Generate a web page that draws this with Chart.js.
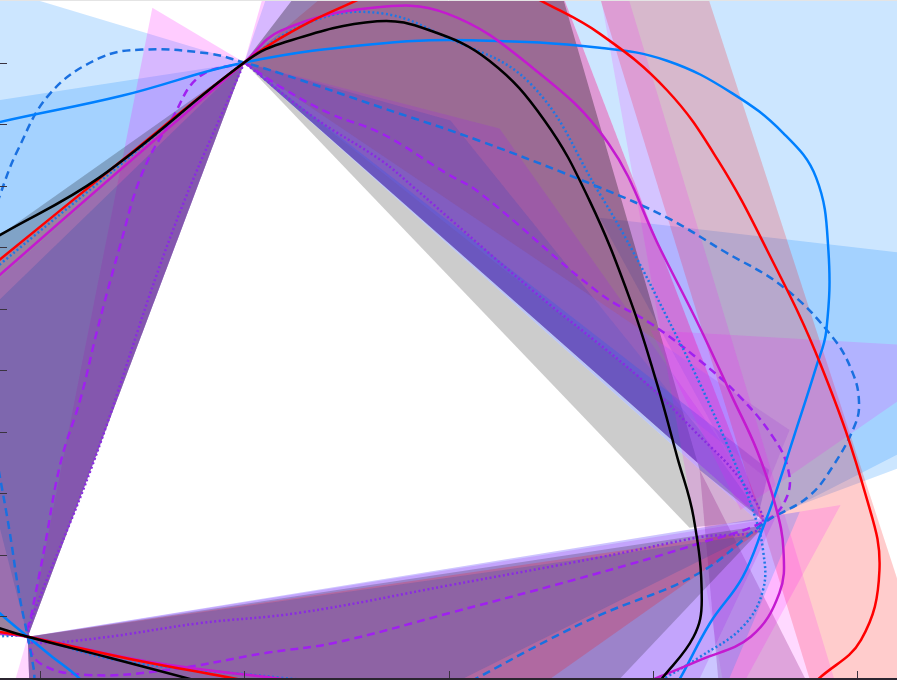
<!DOCTYPE html>
<html lang="en">
<head>
    <meta charset="UTF-8">
    <title>Closed curves through three corners</title>
    <script src="https://cdn.jsdelivr.net/npm/chart.js"></script>
    <style>
        html, body { margin: 0; padding: 0; background: #fff; }
        #wrap { width: 899px; height: 680px; }
    </style>
</head>
<body>
<div id="wrap"><canvas id="curveCanvas"></canvas></div>
<script>
    // tick positions (labels sit outside the visible window)
    var xTicks = [0, 1, 2, 3, 4];
    var yTicks = [1, 2, 3, 4, 5, 6, 7, 8, 9, 10];

    // the closed curves as [x, y]
    var blackCurve = [[-0.80,4.0],[-0.44,6.72],[-0.20,7.19],[0.29,8.13],[1.00,10.00],[1.18,10.31],[1.65,10.67],[1.91,10.52],[2.20,10.03],[2.47,9.06],[2.69,7.76],[2.89,6.14],[3.02,4.79],[3.12,3.59],[3.20,2.61],[3.24,1.27],[3.20,0.67],[3.04,-0.03],[2.89,-0.68],[1.93,-1.0],[0.98,-0.23],[0.75,-0.03],[0.34,0.33],[-0.06,0.67],[-0.20,0.81],[-0.44,1.09],[-0.80,4.0]];
    var redCurve = [[-0.80,3.5],[-0.44,6.14],[-0.20,6.79],[0.39,8.38],[1.00,10.00],[1.27,10.57],[1.55,11.01],[1.86,11.49],[2.15,11.54],[2.45,11.01],[2.74,10.47],[3.07,9.55],[3.32,8.41],[3.56,6.95],[3.82,5.11],[4.05,2.89],[4.11,1.75],[4.02,0.62],[3.81,-0.02],[3.60,-0.68],[2.5,-1.2],[1.22,-0.18],[0.97,-0.02],[0.44,0.31],[-0.06,0.67],[-0.20,0.75],[-0.44,0.89],[-0.80,3.5]];
    var blueCurve = [[-0.49,8.78],[-0.20,9.03],[0.40,9.46],[1.00,10.00],[1.67,10.31],[2.15,10.36],[2.74,10.24],[3.07,10.03],[3.39,9.50],[3.64,8.85],[3.80,8.13],[3.86,6.95],[3.85,5.65],[3.80,5.05],[3.69,3.91],[3.59,2.89],[3.55,2.53],[3.44,1.64],[3.28,0.89],[3.13,-0.03],[3.01,-0.68],[1.8,-1.3],[0.37,-0.68],[0.20,-0.03],[0.05,0.37],[-0.06,0.67],[-0.20,1.06],[-0.39,1.64],[-0.8,5.0],[-0.49,8.78]];
    var magentaCurve = [[-0.80,3.5],[-0.44,5.83],[-0.20,6.54],[0.39,8.25],[1.00,10.00],[1.18,10.52],[1.63,10.89],[1.99,10.80],[2.41,9.92],[2.78,8.70],[3.04,6.95],[3.23,5.70],[3.39,4.56],[3.51,3.70],[3.60,2.81],[3.64,2.08],[3.62,1.38],[3.48,0.67],[3.23,0.29],[3.02,0.0],[2.79,-0.32],[2.1,-0.8],[1.52,-0.15],[1.27,-0.05],[0.54,0.26],[-0.06,0.67],[-0.20,0.73],[-0.44,0.83],[-0.80,3.5]];
    var dashedBlueCurve = [[-0.27,7.11],[-0.20,7.81],[-0.11,8.57],[0.05,9.50],[0.29,10.07],[0.50,10.21],[0.82,10.15],[1.00,10.00],[1.18,9.82],[1.67,9.27],[2.15,8.73],[2.74,7.97],[3.07,7.48],[3.34,6.95],[3.64,6.35],[3.88,5.54],[3.98,4.95],[4.01,4.48],[3.99,4.11],[3.88,3.43],[3.76,2.94],[3.55,2.53],[3.23,1.71],[2.74,1.02],[2.49,0.62],[2.14,0.0],[1.86,-0.49],[1.03,-1.66],[0.0,-0.52],[-0.03,0.13],[-0.06,0.67],[-0.10,1.32],[-0.15,2.40],[-0.20,3.33],[-0.24,4.03],[-0.39,5.65],[-0.27,7.11]];
    var dashedPurpleCurve = [[1.00,10.00],[0.78,9.77],[0.65,9.11],[0.50,8.20],[0.39,7.00],[0.28,5.65],[0.20,4.56],[0.10,3.49],[0.02,2.08],[-0.04,1.06],[-0.06,0.67],[0.0,0.24],[0.23,0.05],[0.62,0.13],[1.11,0.41],[1.44,0.57],[2.01,1.06],[2.74,1.71],[3.23,2.19],[3.56,2.57],[3.66,2.97],[3.66,3.43],[3.59,3.91],[3.43,4.56],[3.23,5.16],[2.99,5.76],[2.74,6.25],[2.15,7.89],[1.99,8.20],[1.67,8.85],[1.42,9.17],[1.19,9.58],[1.00,10.00]];
    var dottedPurpleCurve = [[1.00,10.00],[0.65,7.27],[0.26,3.49],[-0.03,1.06],[-0.06,0.67],[-0.03,0.57],[0.29,0.65],[0.78,0.89],[1.27,1.06],[2.01,1.51],[2.74,1.96],[3.23,2.29],[3.53,2.45],[3.45,3.13],[3.20,4.03],[2.95,4.84],[2.40,6.33],[1.83,7.97],[1.67,8.41],[1.34,9.11],[1.00,10.00]];
    var dottedBlueCurve = [[-0.80,3.4],[-0.44,6.02],[-0.20,6.71],[0.39,8.33],[1.00,10.00],[1.34,10.68],[1.67,10.80],[1.99,10.41],[2.40,9.66],[2.74,7.87],[2.90,6.95],[3.07,5.86],[3.23,4.79],[3.39,3.59],[3.49,2.73],[3.54,2.08],[3.54,1.43],[3.44,0.83],[3.23,0.34],[3.07,0.02],[2.84,-0.44],[2.2,-0.9],[1.47,-0.11],[1.19,0.0],[0.38,0.29],[-0.06,0.67],[-0.20,0.68],[-0.44,0.68],[-0.80,3.4]];

    // shaded fans, each a polygon of corners [x, y]
    var leftBlueA = [[-0.49,11.49],[1.00,10.00],[-0.06,0.67],[-0.49,0.75]];
    var leftBlueB = [[-0.49,9.24],[1.00,10.00],[-0.06,0.67],[-0.49,0.75]];
    var leftMagenta = [[0.55,10.89],[1.00,10.00],[-0.06,0.67]];
    var leftGray = [[-0.49,6.51],[1.00,10.00],[-0.06,0.67],[-0.49,0.75]];
    var leftRed = [[-0.49,5.99],[1.00,10.00],[-0.06,0.67],[-0.49,0.75]];
    var leftNavy = [[1.00,10.00],[-0.20,6.14],[-0.27,3.38],[-0.06,0.67]];
    var leftPurple = [[1.00,10.00],[-0.49,5.65],[-0.49,1.92],[-0.06,0.67]];

    var topRed = [[1.00,10.00],[1.42,11.17],[2.55,11.17],[3.55,2.53]];
    var topGray = [[1.00,10.00],[1.27,11.17],[2.55,11.17],[3.23,3.38],[3.55,2.53]];
    var topBlue = [[1.00,10.00],[1.12,11.17],[2.55,11.17],[3.55,2.53]];
    var topNavy = [[1.00,10.00],[2.01,9.06],[3.23,4.03],[3.55,2.53]];
    var topPurple = [[1.00,10.00],[2.25,8.93],[3.33,3.86],[3.55,2.53]];
    var topMagenta = [[1.00,10.00],[1.10,11.17],[2.55,11.17],[3.55,2.53]];
    var edgeBlue = [[1.00,10.00],[3.57,3.38],[3.51,2.56]];
    var edgeViolet = [[1.00,10.00],[3.67,4.03],[3.57,3.21]];
    var edgeGray = [[1.00,10.00],[3.51,2.56],[3.18,2.44]];

    var rightBlueA = [[2.55,11.17],[4.50,11.17],[4.50,3.78],[3.72,2.81],[3.55,2.53]];
    var rightBlueB = [[2.74,7.48],[4.24,6.90],[4.24,3.70],[3.55,2.53]];
    var rightRed = [[2.73,11.17],[3.26,11.17],[4.39,-0.36],[3.80,-0.36]];
    var rightMagenta = [[2.74,11.17],[2.87,11.17],[3.92,-0.36],[3.36,-0.36]];
    var rightPink = [[2.99,5.65],[4.24,5.41],[4.24,4.59],[3.43,2.73]];
    var rightMauve = [[3.23,3.38],[3.80,-0.36],[3.33,-0.36]];

    var lowMagenta = [[-0.06,0.67],[3.92,2.81],[3.40,-0.36],[-0.15,-0.36]];
    var lowBlue = [[-0.06,0.67],[3.72,2.70],[3.33,-0.36],[-0.05,-0.36]];
    var lowPurple = [[-0.06,0.67],[3.60,2.60],[3.18,-0.36],[-0.05,-0.36]];
    var lowGray = [[-0.06,0.67],[3.55,2.48],[2.74,-0.36],[-0.05,-0.36]];
    var lowRed = [[-0.06,0.67],[3.53,2.40],[2.35,-0.36],[-0.05,-0.36]];
    var lowNavy = [[-0.06,0.67],[3.48,2.32],[1.86,-0.36],[-0.05,-0.36]];

    var BLUE = 'rgba(0,128,255,0.2)', RED = 'rgba(255,0,0,0.2)', GRAY = 'rgba(0,0,0,0.2)',
        MAGENTA = 'rgba(255,0,255,0.2)', PURPLE = 'rgba(160,32,240,0.2)', NAVY = 'rgba(40,80,170,0.25)';

    // back to front
    var fills = [
        [leftBlueA, BLUE], [leftBlueB, BLUE], [rightBlueA, BLUE], [rightBlueB, BLUE],
        [topBlue, BLUE], [topMagenta, MAGENTA], [leftMagenta, MAGENTA],
        [leftGray, 'rgba(0,0,0,0.22)'], [leftRed, RED], [topRed, 'rgba(255,0,0,0.17)'], [topGray, 'rgba(0,0,0,0.3)'],
        [leftPurple, PURPLE], [leftNavy, NAVY], [topNavy, NAVY], [topPurple, PURPLE],
        [edgeGray, GRAY], [edgeViolet, 'rgba(120,110,255,0.25)'], [edgeBlue, 'rgba(60,90,230,0.35)'],
        [rightRed, RED], [rightMagenta, 'rgba(255,0,255,0.15)'], [rightPink, 'rgba(255,0,255,0.15)'],
        [rightMauve, 'rgba(150,40,140,0.3)'],
        [lowMagenta, 'rgba(255,0,255,0.16)'], [lowBlue, BLUE], [lowPurple, PURPLE], [lowGray, GRAY], [lowRed, RED], [lowNavy, NAVY]
    ];

    var curves = [
        [dashedPurpleCurve, '#a020f0', [8, 5]],
        [dottedPurpleCurve, '#8a2be2', [2, 2.5]],
        [dashedBlueCurve, '#1a70e0', [8, 5]],
        [dottedBlueCurve, '#1e78e6', [2, 2.5]],
        [blueCurve, '#0080ff', []],
        [magentaCurve, '#c41ad0', []],
        [redCurve, '#ff0000', []],
        [blackCurve, '#000000', []]
    ];

    function toPoints(arr) {
        return arr.map(function (p) { return { x: p[0], y: p[1] }; });
    }

    var datasets = [];
    fills.forEach(function (f, i) {
        datasets.push({
            data: toPoints(f[0]),
            showLine: true,
            fill: 'shape',
            backgroundColor: f[1],
            borderWidth: 0,
            borderColor: 'rgba(0,0,0,0)',
            pointRadius: 0,
            tension: 0,
            order: 1000 - i
        });
    });
    curves.forEach(function (c, i) {
        datasets.push({
            data: toPoints(c[0]),
            showLine: true,
            fill: false,
            borderColor: c[1],
            borderWidth: 2.5,
            borderDash: c[2],
            pointRadius: 0,
            tension: 0.4,
            order: 100 - i
        });
    });

    var axisFrame = {
        id: 'axisFrame',
        afterDatasetsDraw: function (chart) {
            var ctx = chart.ctx, area = chart.chartArea;
            var xs = chart.scales.x, ys = chart.scales.y;
            ctx.save();
            ctx.strokeStyle = '#3a3340';
            ctx.lineWidth = 1;
            ctx.beginPath();
            xTicks.forEach(function (v) {
                var px = Math.round(xs.getPixelForValue(v)) + 0.5;
                ctx.moveTo(px, area.bottom);
                ctx.lineTo(px, area.bottom - 7);
            });
            yTicks.forEach(function (v) {
                var py = Math.round(ys.getPixelForValue(v)) + 0.5;
                ctx.moveTo(area.left, py);
                ctx.lineTo(area.left + 7, py);
            });
            ctx.stroke();
            ctx.strokeStyle = '#2b2530';
            ctx.lineWidth = 2;
            ctx.beginPath();
            ctx.moveTo(area.left, area.bottom + 1);
            ctx.lineTo(area.right, area.bottom + 1);
            ctx.stroke();
            ctx.strokeStyle = '#e4e4e4';
            ctx.lineWidth = 1;
            ctx.beginPath();
            ctx.moveTo(area.left, area.top - 0.5);
            ctx.lineTo(area.right, area.top - 0.5);
            ctx.stroke();
            ctx.restore();
        }
    };

    new Chart(document.getElementById('curveCanvas').getContext('2d'), {
        type: 'scatter',
        data: { datasets: datasets },
        options: {
            responsive: true,
            maintainAspectRatio: false,
            animation: false,
            layout: { padding: { left: 0, top: 1, right: 2, bottom: 2 } },
            plugins: { legend: { display: false }, tooltip: { enabled: false } },
            elements: { point: { radius: 0 }, line: { capBezierPoints: false } },
            scales: {
                x: { type: 'linear', min: -0.196, max: 4.196, display: false },
                y: { type: 'linear', min: 0, max: 11, display: false }
            }
        },
        plugins: [axisFrame]
    });
</script>
</body>
</html>
